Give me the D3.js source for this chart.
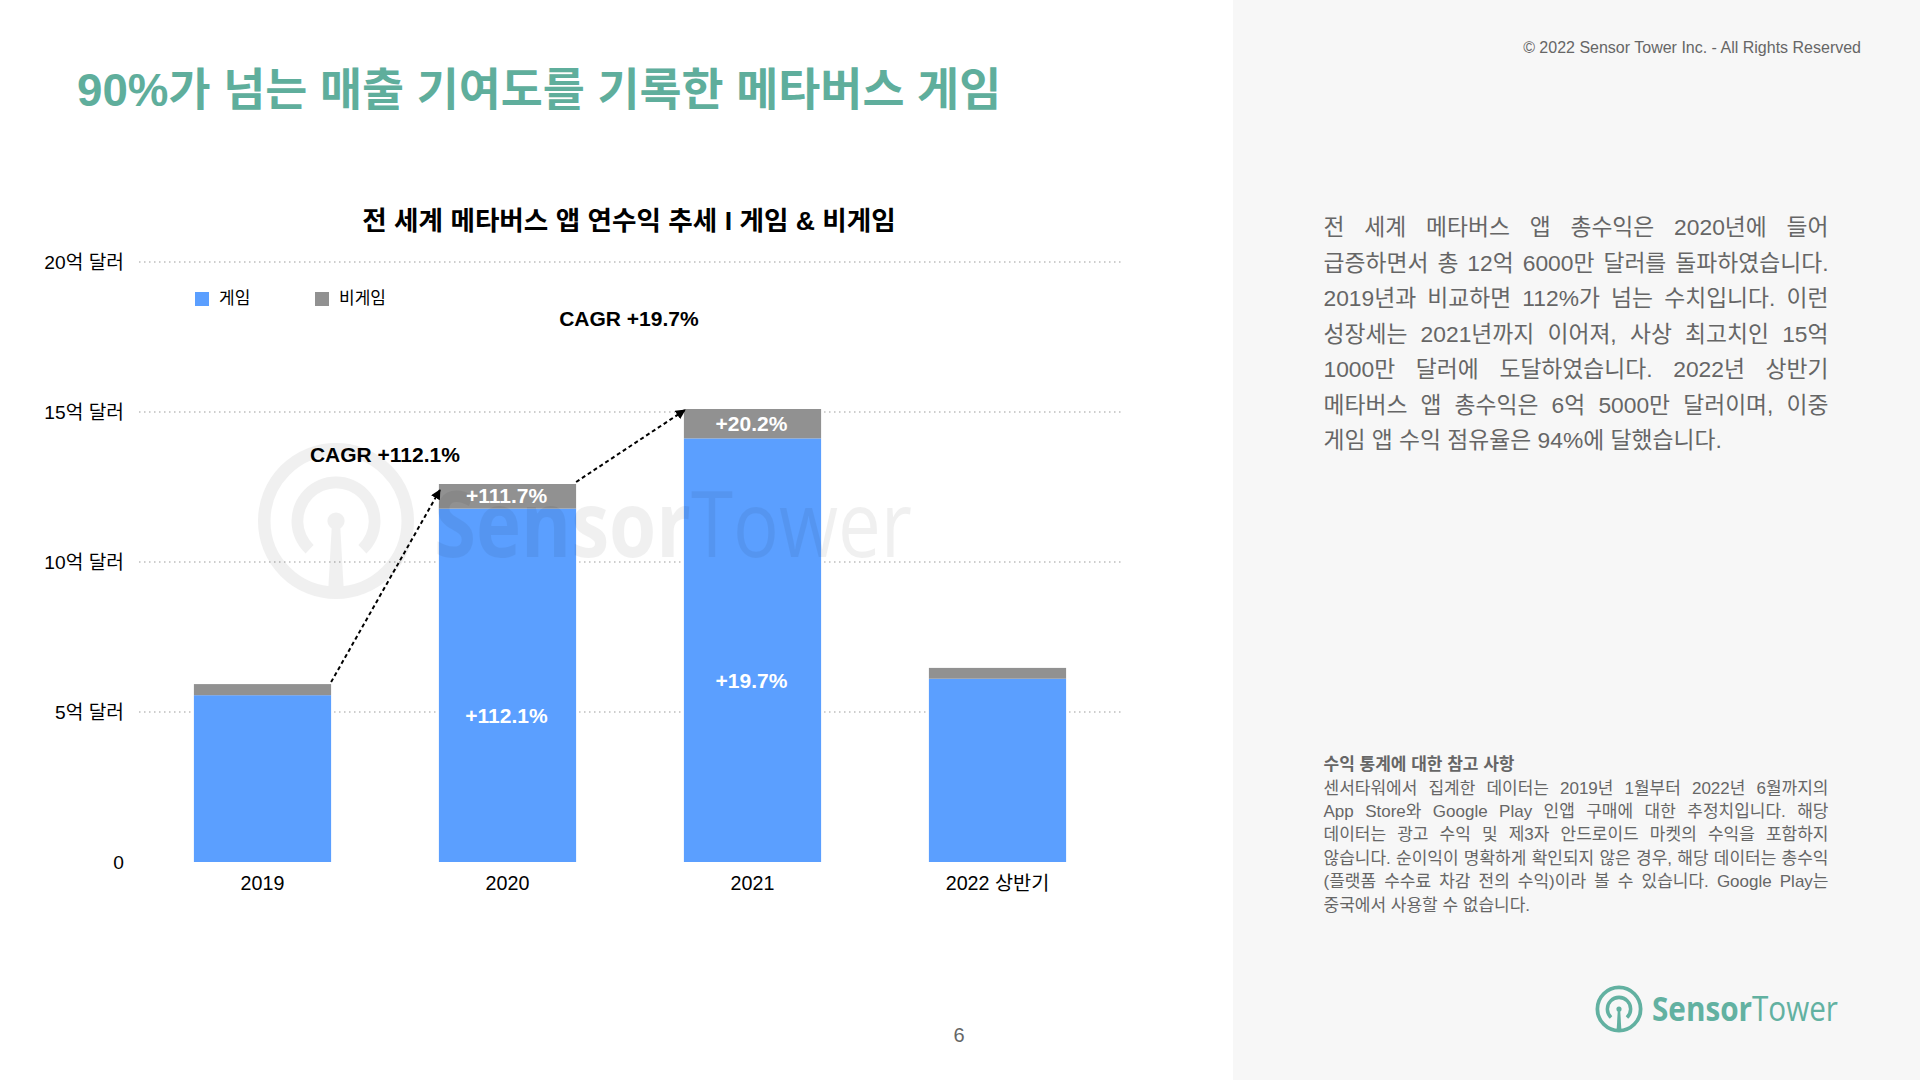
<!DOCTYPE html>
<html lang="ko">
<head>
<meta charset="utf-8">
<script src="https://cdn.jsdelivr.net/npm/d3@7"></script>
<style>
  html, body { margin: 0; padding: 0; background: #fff; }
  svg { display: block; }
  text { font-family: "Liberation Sans", "Noto Sans CJK KR", sans-serif; }
  .axis .domain, .axis line { display: none; }
  .axis text { fill: #000; }
  .axis.y text { font-size: 19.2px; }
  .axis.x text { font-size: 19.7px; }
</style>
</head>
<body>
<div id="chart"></div>
<script>
// values are in 억 달러
const categories = ["2019", "2020", "2021", "2022 상반기"];
const gameRevenue = [5.56, 11.78, 14.12, 6.11];
const nonGameRevenue = [0.37, 0.82, 0.98, 0.36];
const yTicks = [0, 5, 10, 15, 20];
const yTickLabels = ["0", "5억 달러", "10억 달러", "15억 달러", "20억 달러"];
const gameLabels = [null, "+112.1%", "+19.7%", null];
const nonGameLabels = [null, "+111.7%", "+20.2%", null];
const legendNames = ["게임", "비게임"];

const pageTitle = "90%가 넘는 매출 기여도를 기록한 메타버스 게임";
const chartTitle = "전 세계 메타버스 앱 연수익 추세 I 게임 & 비게임";
const copyright = "© 2022 Sensor Tower Inc. - All Rights Reserved";
const bodyLines = [
  "전 세계 메타버스 앱 총수익은 2020년에 들어",
  "급증하면서 총 12억 6000만 달러를 돌파하였습니다.",
  "2019년과 비교하면 112%가 넘는 수치입니다. 이런",
  "성장세는 2021년까지 이어져, 사상 최고치인 15억",
  "1000만 달러에 도달하였습니다. 2022년 상반기",
  "메타버스 앱 총수익은 6억 5000만 달러이며, 이중",
  "게임 앱 수익 점유율은 94%에 달했습니다."
];
const noteTitle = "수익 통계에 대한 참고 사항";
const noteLines = [
  "센서타워에서 집계한 데이터는 2019년 1월부터 2022년 6월까지의",
  "App Store와 Google Play 인앱 구매에 대한 추정치입니다. 해당",
  "데이터는 광고 수익 및 제3자 안드로이드 마켓의 수익을 포함하지",
  "않습니다. 순이익이 명확하게 확인되지 않은 경우, 해당 데이터는 총수익",
  "(플랫폼 수수료 차감 전의 수익)이라 볼 수 있습니다. Google Play는",
  "중국에서 사용할 수 없습니다."
];

const green = "#5fae9c";
const blue = "#5b9fff";
const gray = "#919191";
const textGray = "#666";

const svg = d3.select("#chart").append("svg")
  .attr("width", 1920)
  .attr("height", 1080);

svg.append("rect").attr("x", 1233).attr("y", 0).attr("width", 687).attr("height", 1080).attr("fill", "#f7f7f7");

svg.append("text").attr("x", 77).attr("y", 105.5)
  .attr("font-size", 45.7).attr("font-weight", 700).attr("fill", green)
  .text(pageTitle);
svg.append("text").attr("x", 1861).attr("y", 52.5)
  .attr("text-anchor", "end").attr("font-size", 16).attr("fill", textGray)
  .text(copyright);
svg.append("text").attr("x", 629).attr("y", 230)
  .attr("text-anchor", "middle").attr("font-size", 26.6).attr("font-weight", 700).attr("fill", "#000")
  .text(chartTitle);
svg.append("text").attr("x", 959).attr("y", 1042)
  .attr("text-anchor", "middle").attr("font-size", 20).attr("fill", textGray)
  .text("6");

/////////////////////////////
const xScale = d3.scaleBand()
  .domain(categories)
  .range([140, 1120])
  .paddingInner(0.44)
  .paddingOuter(0.22);
const yScale = d3.scaleLinear()
  .domain([0, 20])
  .range([862, 262]);

const totals = gameRevenue.map((d, i) => d + nonGameRevenue[i]);
const stacked = d3.stack().keys(["game", "nonGame"])(
  categories.map((name, i) => ({ name, game: gameRevenue[i], nonGame: nonGameRevenue[i] }))
);

// grid
svg.append("g").selectAll("line")
  .data(yTicks.filter(d => d > 0))
  .join("line")
  .attr("x1", 139)
  .attr("x2", 1121)
  .attr("y1", d => yScale(d))
  .attr("y2", d => yScale(d))
  .attr("stroke", "#bdbdbd")
  .attr("stroke-width", 1.5)
  .attr("stroke-dasharray", "1.5 3.5");

// axes
svg.append("g").attr("class", "axis y")
  .attr("transform", "translate(130,0)")
  .call(d3.axisLeft(yScale).tickValues(yTicks).tickSize(0).tickPadding(6)
    .tickFormat((d, i) => yTickLabels[i]));
svg.append("g").attr("class", "axis x")
  .attr("transform", "translate(0,862)")
  .call(d3.axisBottom(xScale).tickSize(0).tickPadding(14));

// the dotted lines stop just short of the bars
svg.append("g").selectAll("rect")
  .data(categories)
  .join("rect")
  .attr("x", d => xScale(d) - 3)
  .attr("y", (d, i) => yScale(totals[i]))
  .attr("width", xScale.bandwidth() + 6)
  .attr("height", (d, i) => yScale(0) - yScale(totals[i]))
  .attr("fill", "#fff");

// bars
svg.append("g").selectAll("g")
  .data(stacked)
  .join("g")
  .attr("fill", (d, i) => i === 0 ? blue : gray)
  .selectAll("rect")
  .data(d => d)
  .join("rect")
  .attr("x", d => xScale(d.data.name))
  .attr("y", d => yScale(d[1]))
  .attr("width", xScale.bandwidth())
  .attr("height", d => yScale(d[0]) - yScale(d[1]));

// logo, also used as the watermark
function drawLogo(g, r, fill, nameSize, nameX, nameLength, nameY) {
  const ringWidth = r * 0.16;
  g.append("circle").attr("r", r - ringWidth / 2)
    .attr("fill", "none").attr("stroke", fill).attr("stroke-width", ringWidth);
  g.append("path")
    .attr("d", d3.arc()({
      innerRadius: r * 0.42,
      outerRadius: r * 0.57,
      startAngle: -0.76 * Math.PI,
      endAngle: 0.76 * Math.PI
    }))
    .attr("fill", fill);
  g.append("circle").attr("r", r * 0.11).attr("fill", fill);
  g.append("path")
    .attr("d", d3.line()([[-r * 0.05, 0], [r * 0.05, 0], [r * 0.1, r * 0.9], [-r * 0.1, r * 0.9]]))
    .attr("fill", fill);
  const name = g.append("text")
    .attr("x", nameX)
    .attr("y", nameY)
    .attr("font-size", nameSize)
    .attr("fill", fill)
    .attr("textLength", nameLength)
    .attr("lengthAdjust", "spacingAndGlyphs")
    .style("font-family", "'Open Sans'");
  name.append("tspan").attr("font-weight", 700).text("Sensor");
  name.append("tspan").attr("font-weight", 400).text("Tower");
}

const watermark = svg.append("g")
  .attr("transform", "translate(336,521)")
  .attr("opacity", 0.055);
drawLogo(watermark, 78, "#000", 92, 98, 478, 36);

drawLogo(svg.append("g").attr("transform", "translate(1619,1009)"), 23.5, "#62b1a1", 34, 33, 186, 12);

// value labels
const labelBoxes = [
  { labels: gameLabels, mid: i => gameRevenue[i] / 2, dy: 37.5 },
  { labels: nonGameLabels, mid: i => gameRevenue[i] + nonGameRevenue[i] / 2, dy: 7 }
];
labelBoxes.forEach(box => {
  svg.append("g").selectAll("text")
    .data(categories)
    .join("text")
    .attr("x", d => xScale(d) + xScale.bandwidth() / 2 - 1)
    .attr("y", (d, i) => yScale(box.mid(i)) + box.dy)
    .attr("text-anchor", "middle")
    .attr("font-size", 21)
    .attr("font-weight", 700)
    .attr("fill", "#fff")
    .text((d, i) => box.labels[i]);
});

// growth arrows
svg.append("defs").append("marker")
  .attr("id", "head")
  .attr("viewBox", "0 0 10 10")
  .attr("refX", 9).attr("refY", 5)
  .attr("markerWidth", 10).attr("markerHeight", 10)
  .attr("markerUnits", "userSpaceOnUse")
  .attr("orient", "auto")
  .append("path").attr("d", "M0,0L10,5L0,10Z").attr("fill", "#000");

const arrowPairs = [[0, 1, "CAGR +112.1%", -54, -22], [1, 2, "CAGR +19.7%", -55, -83.5]];
arrowPairs.forEach(([from, to, label, dx, dy]) => {
  const x1 = xScale(categories[from]) + xScale.bandwidth();
  const x2 = xScale(categories[to]);
  svg.append("line")
    .attr("x1", x1).attr("y1", yScale(totals[from]) - 2)
    .attr("x2", x2 + 1).attr("y2", yScale(totals[to]) + (from === 0 ? 6 : 1))
    .attr("stroke", "#000")
    .attr("stroke-width", 2)
    .attr("stroke-dasharray", "4 3")
    .attr("marker-end", "url(#head)");
  svg.append("text")
    .attr("x", x2 + dx)
    .attr("y", yScale(totals[to]) + dy)
    .attr("text-anchor", "middle")
    .attr("font-size", 21)
    .attr("font-weight", 700)
    .attr("fill", "#000")
    .text(label);
});

// legend
const legend = svg.append("g").selectAll("g")
  .data(legendNames)
  .join("g")
  .attr("transform", (d, i) => `translate(${195 + i * 120},292)`);
legend.append("rect").attr("width", 14).attr("height", 14).attr("fill", (d, i) => i === 0 ? blue : gray);
legend.append("text").attr("x", 24).attr("y", 12).attr("font-size", 17).attr("fill", "#000").text(d => d);

// side text, stretched to the column by word spacing
function justified(lines, startY, step, size, width) {
  svg.append("g").selectAll("text")
    .data(lines)
    .join("text")
    .attr("x", 1323.5)
    .attr("y", (d, i) => startY + i * step)
    .attr("font-size", size)
    .attr("fill", textGray)
    .text(d => d)
    .each(function (d, i) {
      const el = d3.select(this);
      const gaps = d.split(" ").length - 1;
      const extra = width - this.getComputedTextLength();
      if (i < lines.length - 1 && gaps > 0 && extra > 0) {
        el.style("word-spacing", (extra / gaps) + "px");
      }
    });
}
justified(bodyLines, 235, 35.5, 22.8, 505);

svg.append("text").attr("x", 1323.5).attr("y", 770)
  .attr("font-size", 17).attr("font-weight", 700).attr("fill", textGray)
  .text(noteTitle);
justified(noteLines, 793.5, 23.4, 17, 505);
</script>
</body>
</html>
